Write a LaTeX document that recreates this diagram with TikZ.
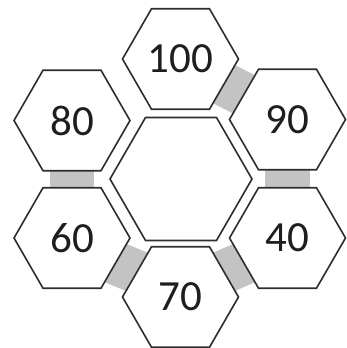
\documentclass[tikz,border=0pt]{standalone}
\usepackage{fontspec}
\usepackage{tikz}
\usetikzlibrary{shapes.geometric, calc, backgrounds}
\newfontfamily\hexfont{Carlito}
\definecolor{hexline}{RGB}{45,45,45}
\definecolor{hextext}{RGB}{30,30,30}
\definecolor{bandgray}{RGB}{195,195,195}
\newcommand{\hexR}{58}
% shaded band between two facing hexagon edges
\newcommand{\shadeband}[6]{%
  \coordinate (p1) at ($(#1)+(#2:\hexR)$);
  \coordinate (p2) at ($(#1)+(#3:\hexR)$);
  \coordinate (p3) at ($(#4)+(#5:\hexR)$);
  \coordinate (p4) at ($(#4)+(#6:\hexR)$);
  \fill[band] ($(p1)!.12!(p2)$) -- ($(p1)!.88!(p2)$) -- ($(p4)!.88!(p3)$) -- ($(p4)!.12!(p3)$) -- cycle;
}

\begin{document}
\begin{tikzpicture}[
    x=1pt, y=1pt,
    hex/.style={regular polygon, regular polygon sides=6, draw=hexline,
                line width=1.6pt, fill=white, inner sep=0pt, outer sep=0pt,
                minimum size=116pt, text=hextext,
                font=\hexfont\fontsize{43}{50}\selectfont},
    bighex/.style={hex, minimum size=142pt},
    band/.style={fill=bandgray},
]
    \useasboundingbox (0,0) rectangle (347,348);

    % Hexagons
    \node[bighex] (mid) at (181,169) {};
    \node[hex] (n100) at (180.5,289) {100};
    \node[hex] (n80) at (72,227.5) {80};
    \node[hex] (n90) at (287.5,228.5) {90};
    \node[hex] (n60) at (72,110) {60};
    \node[hex] (n40) at (287.5,110) {40};
    \node[hex] (n70) at (180.5,51) {70};

    % Bands
    \begin{scope}[on background layer]
        \shadeband{n100}{0}{-60}{n90}{180}{120}
        \shadeband{n80}{-60}{-120}{n60}{120}{60}
        \shadeband{n90}{-60}{-120}{n40}{120}{60}
        \shadeband{n60}{0}{-60}{n70}{180}{120}
        \shadeband{n40}{180}{-120}{n70}{0}{60}
    \end{scope}
\end{tikzpicture}
\end{document}
